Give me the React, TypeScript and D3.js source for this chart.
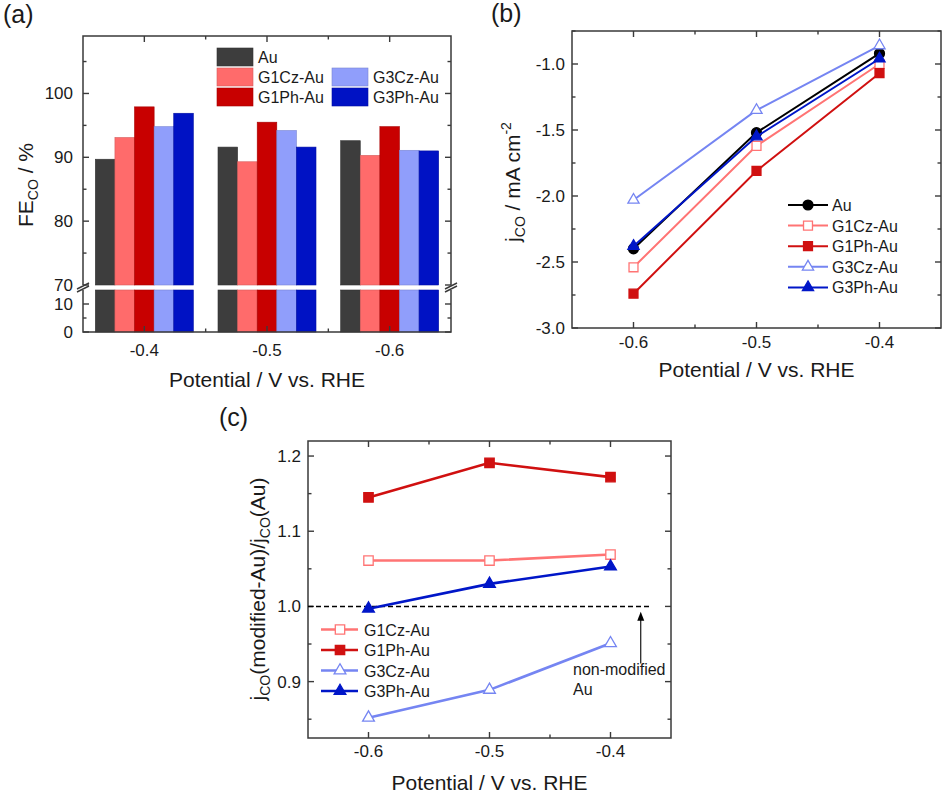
import React, { useEffect, useRef } from "react";
import * as d3 from "d3";

// ---- data ----
const barPotentials = ["-0.4", "-0.5", "-0.6"];
const seriesNames = ["Au", "G1Cz-Au", "G1Ph-Au", "G3Cz-Au", "G3Ph-Au"];
const feAu = [89.7, 91.6, 92.6];
const feG1Cz = [93.1, 89.3, 90.3];
const feG1Ph = [97.9, 95.5, 94.8];
const feG3Cz = [94.8, 94.2, 91.1];
const feG3Ph = [96.9, 91.6, 91.0];
const feTicksUpper = [70, 80, 90, 100];
const feTicksLower = [0, 10];

const potentials = [-0.6, -0.5, -0.4];
const jAu = [-2.4, -1.52, -0.92];
const jG1Cz = [-2.54, -1.62, -1.0];
const jG1Ph = [-2.74, -1.81, -1.07];
const jG3Cz = [-2.03, -1.35, -0.86];
const jG3Ph = [-2.38, -1.55, -0.96];
const jTicks = [-3.0, -2.5, -2.0, -1.5, -1.0];

const ratioG1Cz = [1.061, 1.061, 1.069];
const ratioG1Ph = [1.145, 1.191, 1.172];
const ratioG3Cz = [0.852, 0.889, 0.951];
const ratioG3Ph = [0.997, 1.03, 1.053];
const ratioTicks = [0.9, 1.0, 1.1, 1.2];
const potentialTicks = [-0.6, -0.5, -0.4];

const FONT = "'Liberation Sans', Arial, Helvetica, sans-serif";
const AXIS = "#3a3a3a";

const barColors: Record<string, string> = {
  Au: "#3d3d3d",
  "G1Cz-Au": "#ff6b6b",
  "G1Ph-Au": "#c80000",
  "G3Cz-Au": "#909efb",
  "G3Ph-Au": "#0012c4",
};
const lineColors: Record<string, string> = {
  Au: "#000000",
  "G1Cz-Au": "#ff7474",
  "G1Ph-Au": "#d01010",
  "G3Cz-Au": "#7585f2",
  "G3Ph-Au": "#0016c8",
};
const markerShape: Record<string, { type: d3.SymbolType; filled: boolean }> = {
  Au: { type: d3.symbolCircle, filled: true },
  "G1Cz-Au": { type: d3.symbolSquare, filled: false },
  "G1Ph-Au": { type: d3.symbolSquare, filled: true },
  "G3Cz-Au": { type: d3.symbolTriangle, filled: false },
  "G3Ph-Au": { type: d3.symbolTriangle, filled: true },
};

type G = d3.Selection<SVGGElement, unknown, null, undefined>;

function tickLine(g: G, x1: number, y1: number, x2: number, y2: number) {
  g.append("line")
    .attr("x1", x1)
    .attr("y1", y1)
    .attr("x2", x2)
    .attr("y2", y2)
    .attr("stroke", AXIS)
    .attr("stroke-width", 1.4);
}

function yTicks(g: G, ys: number[], x0: number, x1: number, len: number) {
  ys.forEach((y) => {
    tickLine(g, x0, y, x0 + len, y);
    tickLine(g, x1, y, x1 - len, y);
  });
}

function xTicks(g: G, xs: number[], y0: number, y1: number, len: number) {
  xs.forEach((x) => {
    tickLine(g, x, y1, x, y1 - len);
    tickLine(g, x, y0, x, y0 + len);
  });
}

function box(g: G, x0: number, x1: number, y0: number, y1: number) {
  g.append("rect")
    .attr("x", x0)
    .attr("y", y0)
    .attr("width", x1 - x0)
    .attr("height", y1 - y0)
    .attr("fill", "none")
    .attr("stroke", AXIS)
    .attr("stroke-width", 1.5);
}

function drawMarker(g: G, name: string, cx: number, cy: number, size: number) {
  const m = markerShape[name];
  // triangles get a smaller area so they come out ~11px wide
  const area = m.type === d3.symbolTriangle ? size * 0.68 : m.type === d3.symbolCircle ? size * 0.97 : size;
  g.append("path")
    .attr("d", d3.symbol().type(m.type).size(area)() as string)
    .attr("transform", `translate(${cx},${cy})`)
    .attr("fill", m.filled ? lineColors[name] : "#ffffff")
    .attr("stroke", lineColors[name])
    .attr("stroke-width", 1.3);
}

function label(g: G, x: number, y: number, text: string, size: number, anchor = "middle") {
  return g
    .append("text")
    .attr("x", x)
    .attr("y", y)
    .attr("font-size", size)
    .attr("text-anchor", anchor)
    .attr("fill", "#1a1a1a")
    .text(text);
}

function drawPanelA(g: G) {
  const left = 83,
    right = 451,
    top = 36,
    bottom = 332,
    breakTop = 285,
    breakBot = 290;

  const x = d3.scalePoint().domain(barPotentials).range([left, right]).padding(0.5);
  const inner = d3.scaleBand().domain(seriesNames).range([-49, 49]);
  const yUp = d3.scaleLinear().domain([70, 109]).range([breakTop, top]);
  const yLo = d3.scaleLinear().domain([0, 15]).range([bottom, breakBot]);

  const values: Record<string, number[]> = {
    Au: feAu,
    "G1Cz-Au": feG1Cz,
    "G1Ph-Au": feG1Ph,
    "G3Cz-Au": feG3Cz,
    "G3Ph-Au": feG3Ph,
  };

  // bars, drawn once above and once below the axis break
  seriesNames.forEach((name) => {
    values[name].forEach((v, i) => {
      const bx = (x(barPotentials[i]) as number) + (inner(name) as number);
      const bw = inner.bandwidth();
      g.append("rect")
        .attr("x", bx)
        .attr("y", yUp(v))
        .attr("width", bw)
        .attr("height", yUp(70) - yUp(v))
        .attr("fill", barColors[name])
        .attr("stroke", d3.color(barColors[name])!.darker(0.5).toString())
        .attr("stroke-width", 0.6);
      g.append("rect")
        .attr("x", bx)
        .attr("y", yLo(15))
        .attr("width", bw)
        .attr("height", yLo(0) - yLo(15))
        .attr("fill", barColors[name])
        .attr("stroke", d3.color(barColors[name])!.darker(0.5).toString())
        .attr("stroke-width", 0.6);
    });
  });

  // frame (broken)
  const ax = g.append("g").attr("stroke", AXIS).attr("stroke-width", 1.5).attr("fill", "none");
  ax.append("path").attr("d", `M${left},${breakTop}V${top}H${right}V${breakTop}`);
  ax.append("path").attr("d", `M${left},${breakBot}V${bottom}H${right}V${breakBot}`);
  [left, right].forEach((bx) => {
    [breakTop + 1, breakBot - 1].forEach((by) => {
      ax.append("line")
        .attr("x1", bx - 6)
        .attr("y1", by + 3)
        .attr("x2", bx + 6)
        .attr("y2", by - 3);
    });
  });

  // ticks
  yTicks(g, feTicksUpper.map(yUp), left, right, 6);
  yTicks(g, [75, 85, 95, 105].map(yUp), left, right, 3.5);
  yTicks(g, feTicksLower.map(yLo), left, right, 6);
  yTicks(g, [5].map(yLo), left, right, 3.5);
  const xs = barPotentials.map((p) => x(p) as number);
  xTicks(g, xs, top, bottom, 6);
  xTicks(g, d3.pairs(xs).map(([a, b]) => (a + b) / 2), top, bottom, 3.5);

  feTicksUpper.forEach((t) => label(g, 73, yUp(t) + 6, String(t), 17, "end"));
  feTicksLower.forEach((t) => label(g, 73, yLo(t) + 6, String(t), 17, "end"));
  barPotentials.forEach((p) => label(g, x(p) as number, 356, p, 17));

  label(g, (left + right) / 2, 387, "Potential / V vs. RHE", 21);

  const yt = g
    .append("text")
    .attr("transform", `translate(33,185) rotate(-90)`)
    .attr("text-anchor", "middle")
    .attr("font-size", 21)
    .attr("fill", "#1a1a1a");
  yt.append("tspan").text("FE");
  yt.append("tspan").attr("font-size", 14).attr("dy", 5).text("CO");
  yt.append("tspan").attr("dy", -5).text(" / %");

  label(g, 3, 23, "(a)", 25, "start");

  // legend
  const legendA = [
    { name: "Au", col: 0, row: 0 },
    { name: "G1Cz-Au", col: 0, row: 1 },
    { name: "G1Ph-Au", col: 0, row: 2 },
    { name: "G3Cz-Au", col: 1, row: 1 },
    { name: "G3Ph-Au", col: 1, row: 2 },
  ];
  const colX = [217, 332];
  const rowY = [48, 68, 88];
  legendA.forEach((d) => {
    g.append("rect")
      .attr("x", colX[d.col])
      .attr("y", rowY[d.row])
      .attr("width", 36)
      .attr("height", 18)
      .attr("fill", barColors[d.name])
      .attr("stroke", d3.color(barColors[d.name])!.darker(0.5).toString())
      .attr("stroke-width", 0.6);
    label(g, colX[d.col] + 41, rowY[d.row] + 15, d.name, 16, "start");
  });
}

function drawPanelB(g: G) {
  const left = 572,
    right = 941,
    top = 31,
    bottom = 328;
  const x = d3.scaleLinear().domain([-0.65, -0.35]).range([left, right]);
  const y = d3.scaleLinear().domain([-3.0, -0.75]).range([bottom, top]);

  box(g, left, right, top, bottom);
  yTicks(g, jTicks.map(y), left, right, 6);
  yTicks(g, [-2.75, -2.25, -1.75, -1.25, -0.75].map(y), left, right, 3.5);
  xTicks(g, potentialTicks.map(x), top, bottom, 6);
  xTicks(g, [-0.55, -0.45].map(x), top, bottom, 3.5);

  jTicks.forEach((t) => label(g, 565, y(t) + 6, t.toFixed(1), 17, "end"));
  potentialTicks.forEach((t) => label(g, x(t), 348, t.toFixed(1), 17));
  label(g, (left + right) / 2, 377, "Potential / V vs. RHE", 21);

  const yt = g
    .append("text")
    .attr("transform", `translate(520,182) rotate(-90)`)
    .attr("text-anchor", "middle")
    .attr("font-size", 21)
    .attr("fill", "#1a1a1a");
  yt.append("tspan").text("j");
  yt.append("tspan").attr("font-size", 14).attr("dy", 5).text("CO");
  yt.append("tspan").attr("dy", -5).text(" / mA cm");
  yt.append("tspan").attr("font-size", 14).attr("dy", -9).text("-2");

  label(g, 491, 22, "(b)", 25, "start");

  const series: [string, number[]][] = [
    ["Au", jAu],
    ["G1Cz-Au", jG1Cz],
    ["G1Ph-Au", jG1Ph],
    ["G3Cz-Au", jG3Cz],
    ["G3Ph-Au", jG3Ph],
  ];
  const line = d3
    .line<number>()
    .x((_, i) => x(potentials[i]))
    .y((d) => y(d));
  series.forEach(([name, vals]) => {
    g.append("path")
      .attr("d", line(vals) as string)
      .attr("fill", "none")
      .attr("stroke", lineColors[name])
      .attr("stroke-width", 2);
    vals.forEach((v, i) => drawMarker(g, name, x(potentials[i]), y(v), 80));
  });

  // legend
  series.forEach(([name], i) => {
    const ly = 205 + i * 20.6;
    g.append("line")
      .attr("x1", 788)
      .attr("x2", 828)
      .attr("y1", ly)
      .attr("y2", ly)
      .attr("stroke", lineColors[name])
      .attr("stroke-width", 2);
    drawMarker(g, name, 808, ly, 80);
    label(g, 832, ly + 6, name, 16, "start");
  });
}

function drawPanelC(g: G) {
  const left = 308,
    right = 671,
    top = 441,
    bottom = 738;
  const x = d3.scaleLinear().domain([-0.65, -0.35]).range([left, right]);
  const y = d3.scaleLinear().domain([0.825, 1.22]).range([bottom, top]);

  box(g, left, right, top, bottom);
  yTicks(g, ratioTicks.map(y), left, right, 6);
  yTicks(g, [0.85, 0.95, 1.05, 1.15].map(y), left, right, 3.5);
  xTicks(g, potentialTicks.map(x), top, bottom, 6);
  xTicks(g, [-0.55, -0.45].map(x), top, bottom, 3.5);

  ratioTicks.forEach((t) => label(g, 301, y(t) + 6, t.toFixed(1), 17, "end"));
  potentialTicks.forEach((t) => label(g, x(t), 757, t.toFixed(1), 17));
  label(g, (left + right) / 2, 790, "Potential / V vs. RHE", 21);

  const yt = g
    .append("text")
    .attr("transform", `translate(265,589) rotate(-90)`)
    .attr("text-anchor", "middle")
    .attr("font-size", 21)
    .attr("fill", "#1a1a1a");
  yt.append("tspan").text("j");
  yt.append("tspan").attr("font-size", 14).attr("dy", 5).text("CO");
  yt.append("tspan").attr("dy", -5).text("(modified-Au)/j");
  yt.append("tspan").attr("font-size", 14).attr("dy", 5).text("CO");
  yt.append("tspan").attr("dy", -5).text("(Au)");

  label(g, 219, 426, "(c)", 25, "start");

  // reference line at 1.0 and annotation
  g.append("line")
    .attr("x1", left)
    .attr("x2", x(-0.366))
    .attr("y1", y(1.0))
    .attr("y2", y(1.0))
    .attr("stroke", "#000")
    .attr("stroke-width", 1.5)
    .attr("stroke-dasharray", "5,3");
  const ax = x(-0.375);
  g.append("line")
    .attr("x1", ax)
    .attr("x2", ax)
    .attr("y1", y(0.924))
    .attr("y2", y(0.985))
    .attr("stroke", "#000")
    .attr("stroke-width", 1.1);
  g.append("path")
    .attr(
      "d",
      `M${ax},${y(0.993)}L${ax - 3.5},${y(0.981)}L${ax + 3.5},${y(0.981)}Z`
    )
    .attr("fill", "#000");
  label(g, x(-0.431), y(0.909), "non-modified", 16, "start");
  label(g, x(-0.431), y(0.882), "Au", 16, "start");

  const series: [string, number[]][] = [
    ["G1Cz-Au", ratioG1Cz],
    ["G1Ph-Au", ratioG1Ph],
    ["G3Cz-Au", ratioG3Cz],
    ["G3Ph-Au", ratioG3Ph],
  ];
  const line = d3
    .line<number>()
    .x((_, i) => x(potentials[i]))
    .y((d) => y(d));
  series.forEach(([name, vals]) => {
    g.append("path")
      .attr("d", line(vals) as string)
      .attr("fill", "none")
      .attr("stroke", lineColors[name])
      .attr("stroke-width", 2.6);
    vals.forEach((v, i) => drawMarker(g, name, x(potentials[i]), y(v), 88));
  });

  series.forEach(([name], i) => {
    const ly = 629.5 + i * 20.5;
    g.append("line")
      .attr("x1", 321)
      .attr("x2", 358)
      .attr("y1", ly)
      .attr("y2", ly)
      .attr("stroke", lineColors[name])
      .attr("stroke-width", 2.6);
    drawMarker(g, name, 340, ly, 88);
    label(g, 364, ly + 6, name, 16, "start");
  });
}

const App: React.FC = () => {
  const svgRef = useRef<SVGSVGElement | null>(null);

  useEffect(() => {
    if (!svgRef.current) return;
    const svg = d3.select(svgRef.current);
    svg.selectAll("*").remove();
    svg.attr("font-family", FONT);
    drawPanelA(svg.append("g") as unknown as G);
    drawPanelB(svg.append("g") as unknown as G);
    drawPanelC(svg.append("g") as unknown as G);
  }, []);

  return (
    <svg
      ref={svgRef}
      width={945}
      height={795}
      style={{ position: "absolute", left: 0, top: 0, background: "#ffffff" }}
    />
  );
};

export default App;
